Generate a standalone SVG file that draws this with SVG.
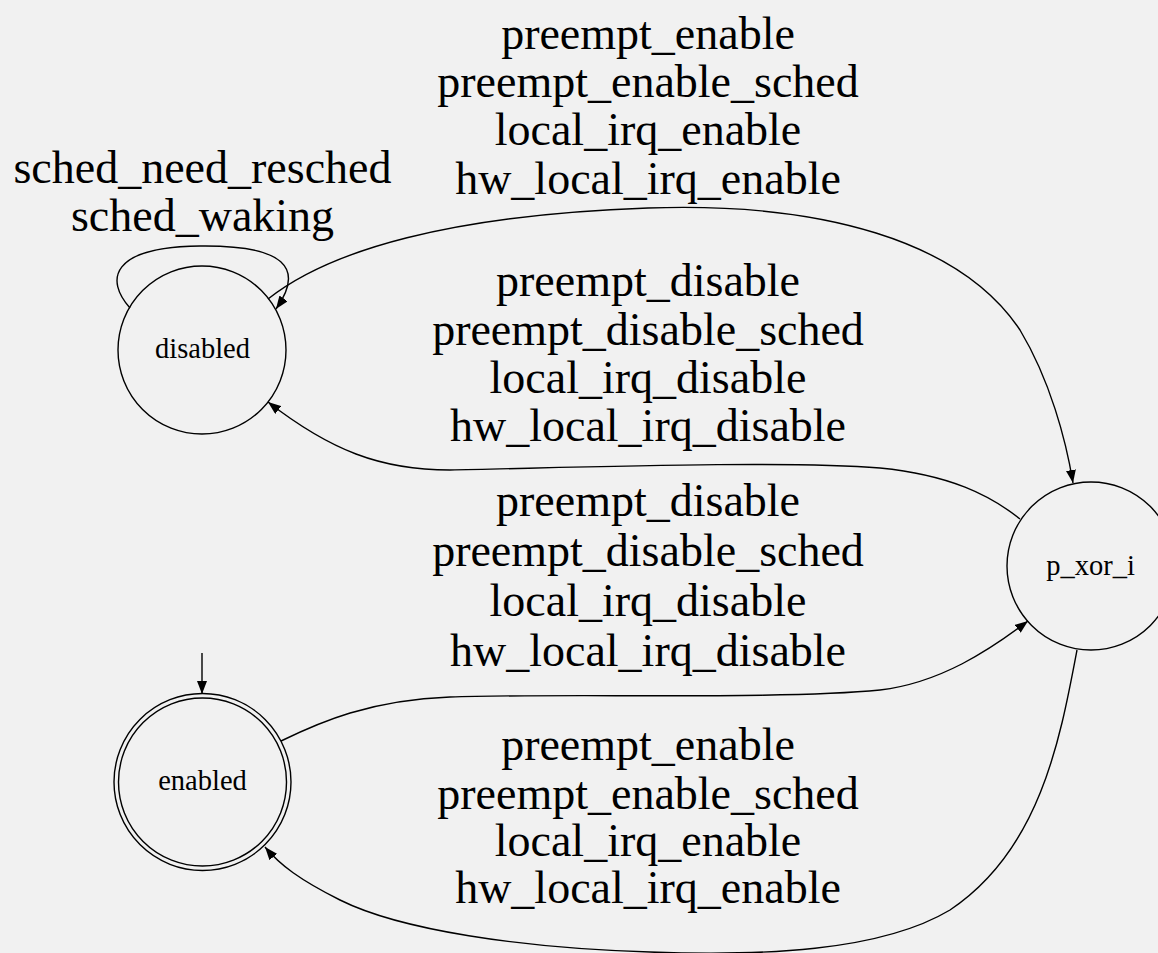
<svg xmlns="http://www.w3.org/2000/svg" width="1158" height="953" viewBox="0 0 1158 953">
<style>
.bg{fill:#f1f1f1}
.node{fill:none;stroke:#000;stroke-width:1.4}
.edge{fill:none;stroke:#000;stroke-width:1.4;marker-end:url(#ah)}
.nl{font-family:"Liberation Serif","Times New Roman",serif;font-size:28.5px;fill:#000;text-anchor:middle}
.el{font-family:"Liberation Serif","Times New Roman",serif;font-size:46px;fill:#000;text-anchor:middle}
</style>
<defs>
<marker id="ah" markerWidth="14" markerHeight="10" refX="13" refY="5" orient="auto" markerUnits="userSpaceOnUse">
<path d="M0,0 L13,5 L0,10 z" fill="#000"/>
</marker>
</defs>
<rect class="bg" x="0" y="0" width="1158" height="953"/>
<g id="connectors">
<path id="init" class="edge" d="M202,653 L202,694"/>
<path id="loop" class="edge" d="M130,308 C105,280 110,247 200,246 C285,245 305,268 276,309"/>
<path id="e1" class="edge" d="M268,299 C330,250 450,215 648,208 C820,202 960,240 1020,330 C1050,380 1066,440 1073,483"/>
<path id="e2" class="edge" d="M1020,519 C990,495 950,475 880,468 C780,460 560,468 450,470 C380,470 330,450 268,402"/>
<path id="e3" class="edge" d="M281,741 C320,722 370,700 450,697 C560,693 780,700 880,690 C940,683 990,650 1028,621"/>
<path id="e4" class="edge" d="M1077,650 C1060,740 1040,850 950,910 C880,952 760,956 650,952 C520,948 400,930 340,900 C300,880 280,865 265,847"/>
<g id="labels">
<text class="el" x="202.5" y="183">sched_need_resched</text>
<text class="el" x="202.5" y="231">sched_waking</text>
<text class="el" x="648" y="49">preempt_enable</text>
<text class="el" x="648" y="97">preempt_enable_sched</text>
<text class="el" x="648" y="145">local_irq_enable</text>
<text class="el" x="648" y="194">hw_local_irq_enable</text>
<text class="el" x="648" y="296">preempt_disable</text>
<text class="el" x="648" y="345">preempt_disable_sched</text>
<text class="el" x="648" y="393">local_irq_disable</text>
<text class="el" x="648" y="441">hw_local_irq_disable</text>
<text class="el" x="648" y="516">preempt_disable</text>
<text class="el" x="648" y="566">preempt_disable_sched</text>
<text class="el" x="648" y="616">local_irq_disable</text>
<text class="el" x="648" y="666">hw_local_irq_disable</text>
<text class="el" x="648" y="760">preempt_enable</text>
<text class="el" x="648" y="809">preempt_enable_sched</text>
<text class="el" x="648" y="856">local_irq_enable</text>
<text class="el" x="648" y="903">hw_local_irq_enable</text>
</g>
</g>
<g id="disabled">
<circle class="node" cx="202" cy="350" r="84"/>
<text class="nl" x="202.5" y="358">disabled</text>
</g>
<g id="enabled">
<circle class="node" cx="202.5" cy="782" r="84"/>
<circle class="node" cx="202.5" cy="782" r="88.5"/>
<text class="nl" x="202.5" y="790">enabled</text>
</g>
<g id="p_xor_i">
<circle class="node" cx="1091" cy="566" r="84"/>
<text class="nl" x="1090.5" y="575">p_xor_i</text>
</g>
</svg>
